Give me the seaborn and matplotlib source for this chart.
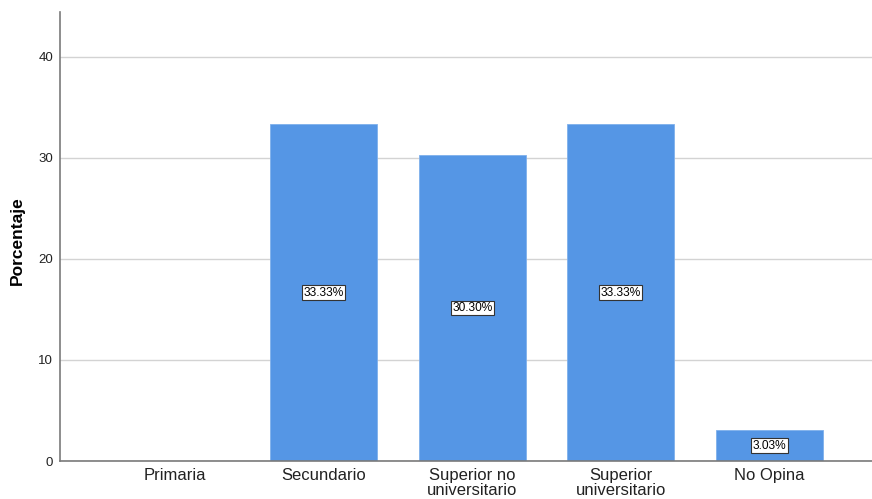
import matplotlib
matplotlib.use("Agg")
import matplotlib.pyplot as plt
import seaborn as sns
import pandas as pd

categorias = ["Primaria", "Secundario", "Superior no\nuniversitario", "Superior\nuniversitario", "No Opina"]
porcentajes = [0.0, 33.33, 30.30, 33.33, 3.03]
ticks_y = [0, 10, 20, 30, 40]

df = pd.DataFrame({"categoria": categorias, "porcentaje": porcentajes})

sns.set_theme(style="white")
plt.rcParams["font.family"] = ["Liberation Sans", "DejaVu Sans"]

fig = plt.figure(figsize=(8.72, 4.99), dpi=100)
ax = fig.add_axes([60 / 872, 38 / 499, 812 / 872, 449 / 499])

sns.barplot(data=df, x="categoria", y="porcentaje", color="#5596E5",
            width=0.72, saturation=1, ax=ax, zorder=2)
for p in ax.patches:
    p.set_edgecolor("#7FB0EC")
    p.set_linewidth(0.6)

for i, v in enumerate(porcentajes):
    if v > 0:
        ax.text(i, v / 2, f"{v:.2f}%", ha="center", va="center", fontsize=8.6,
                color="black", zorder=4,
                bbox=dict(boxstyle="square,pad=0.12", fc="white", ec="#333333", lw=0.8))

ax.set_xlim(-0.775, 4.69)
ax.set_ylim(0, 44.45)
ax.set_yticks(ticks_y)
ax.set_yticklabels([str(t) for t in ticks_y], fontsize=9.5, color="#222222")
ax.tick_params(axis="x", labelsize=12, colors="#222222", length=0, pad=5)
ax.tick_params(axis="y", length=0, pad=5)
for lab in ax.get_xticklabels():
    lab.set_linespacing(1.0)
    lab.set_verticalalignment("top")

ax.yaxis.grid(True, color="#D3D3D3", lw=1.0, zorder=0)
ax.set_axisbelow(True)

ax.set_xlabel("")
ax.set_ylabel("Porcentaje", fontsize=12.5, fontweight="bold", color="black")
ax.yaxis.set_label_coords(-35 / 812, 0.49)

for side in ["top", "right"]:
    ax.spines[side].set_visible(False)
for side in ["left", "bottom"]:
    ax.spines[side].set_color("#7a7a7a")
    ax.spines[side].set_linewidth(1.2)

fig.savefig("out.png", dpi=100, facecolor="white")
